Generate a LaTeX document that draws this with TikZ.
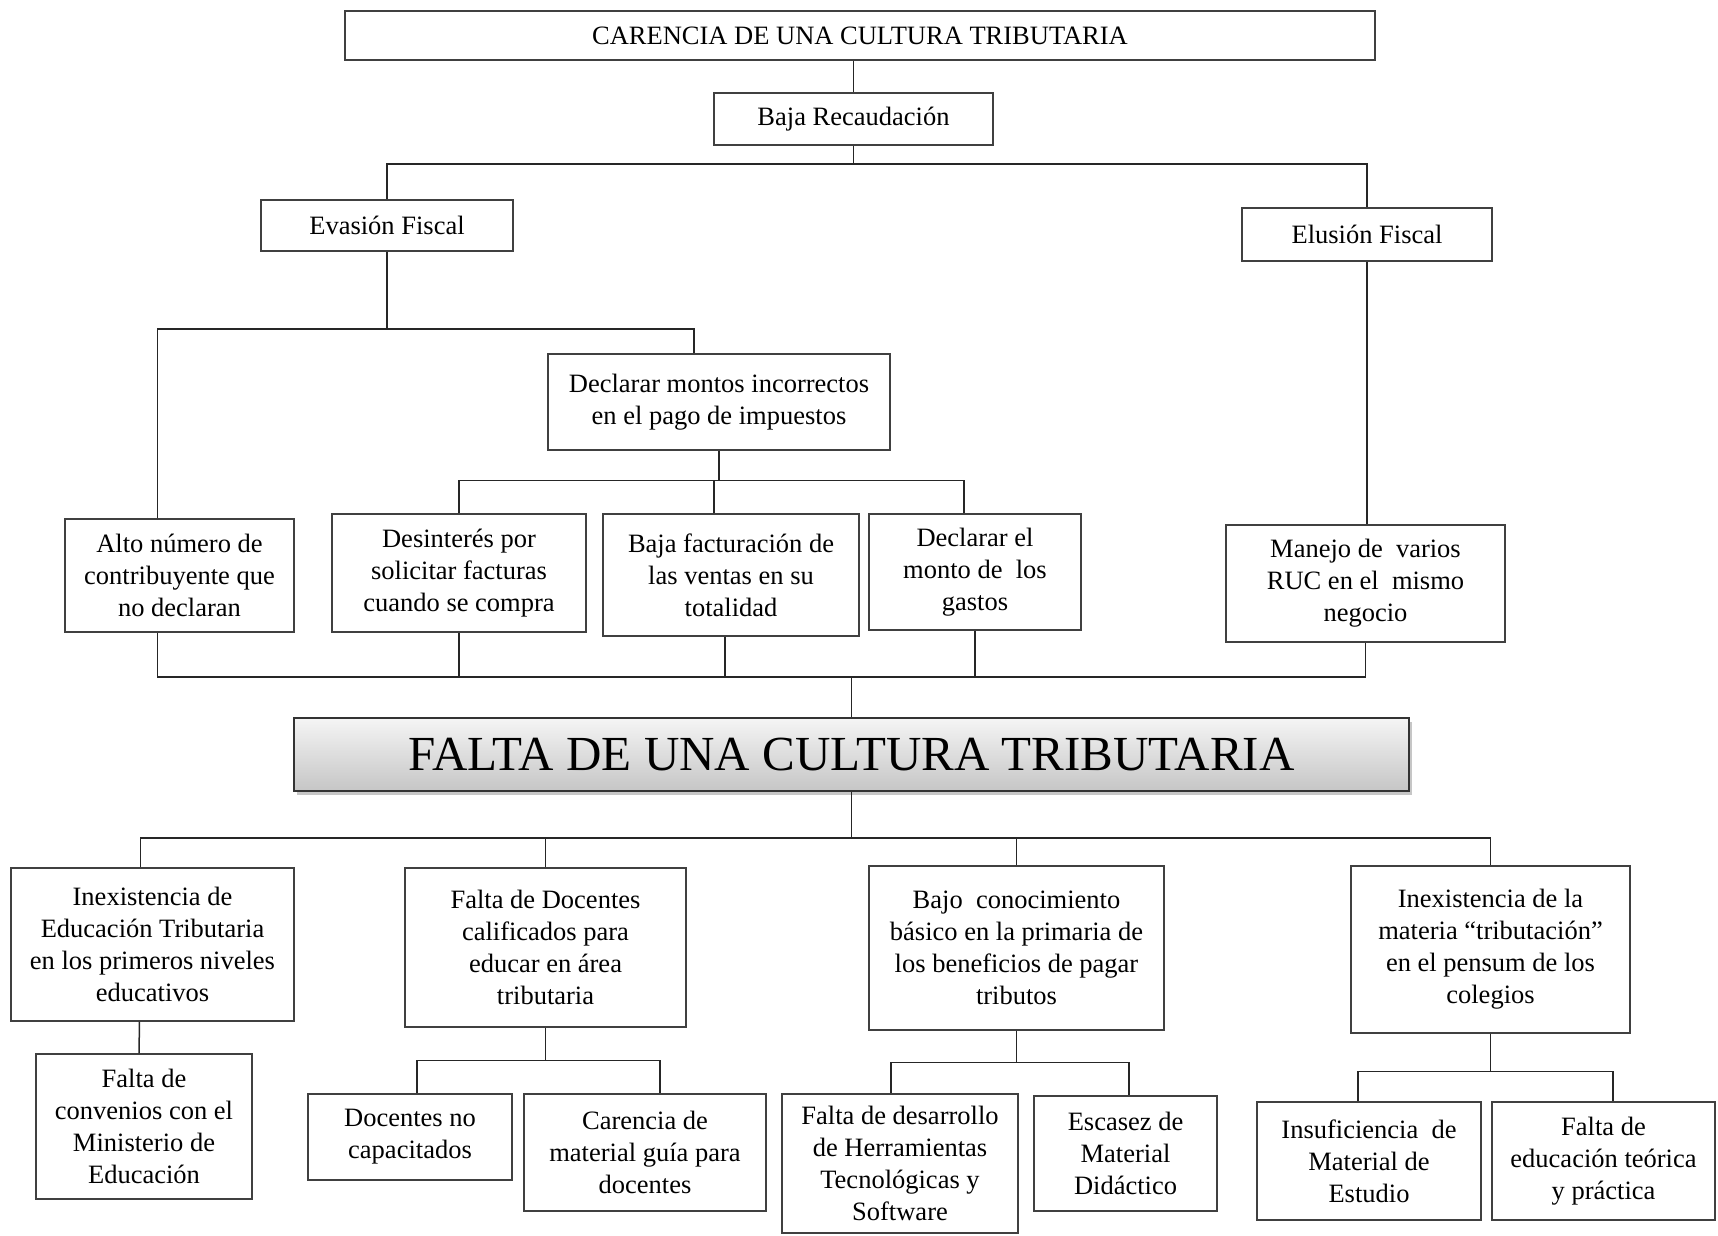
\documentclass[tikz,border=0pt]{standalone}
\usepackage{fontspec}
\setmainfont{Liberation Serif}
\usetikzlibrary{shadows}

\tikzset{
  box/.style={draw=black!75, line width=1.2pt, align=center, inner sep=0pt,
    font=\fontsize{26.5}{32}\selectfont},
  link/.style={draw=black!85, line width=1.5pt},
}

\begin{document}
\begin{tikzpicture}[x=1pt,y=-1pt]
        \useasboundingbox (0,0) rectangle (1718,1235);

        % upper part
        \node[box, minimum width=1030pt, minimum height=49pt] (carencia) at (860,35.5) {CARENCIA DE UNA CULTURA TRIBUTARIA};
        \node[box, minimum width=279pt, minimum height=52pt] (baja) at (853.5,119) {Baja Recaudación};
        \node[box, minimum width=252pt, minimum height=51pt] (eva) at (387,225.5) {Evasión Fiscal};
        \node[box, minimum width=250pt, minimum height=53pt] (elu) at (1367,234.5) {Elusión Fiscal};
        \node[box, minimum width=342pt, minimum height=96pt] (mon) at (719,402) {Declarar montos incorrectos\\en el pago de impuestos};
        \node[box, minimum width=229pt, minimum height=113pt] (alto) at (179.5,575.5) {Alto número de\\contribuyente que\\no declaran};
        \node[box, minimum width=254pt, minimum height=118pt] (des) at (459,573) {Desinterés por\\solicitar facturas\\cuando se compra};
        \node[box, minimum width=256pt, minimum height=122pt] (fac) at (731,575) {Baja facturación de\\las ventas en su\\totalidad};
        \node[box, minimum width=212pt, minimum height=116pt] (gas) at (975,572) {Declarar el\\monto de\ \ los\\gastos};
        \node[box, minimum width=279pt, minimum height=117pt] (man) at (1365.5,583.5) {Manejo de\ \ varios\\RUC en el\ \ mismo\\negocio};

        % central problem
        \node[box, draw=black!80, line width=1.6pt, minimum width=1115pt, minimum height=73pt,
              top color=gray!8, bottom color=gray!45,
              drop shadow={shadow xshift=3pt, shadow yshift=-4pt, opacity=.45},
              font=\fontsize{49}{56}\selectfont] (falta) at (851.5,754.5) {FALTA DE UNA CULTURA TRIBUTARIA};

        % lower part
        \node[box, minimum width=283pt, minimum height=153pt] (ied) at (152.5,944.5) {Inexistencia de\\Educación Tributaria\\en los primeros niveles\\educativos};
        \node[box, minimum width=281pt, minimum height=159pt] (doc) at (545.5,947.5) {Falta de Docentes\\calificados para\\educar en área\\tributaria};
        \node[box, minimum width=295pt, minimum height=164pt] (baj) at (1016.5,948) {Bajo\ \ conocimiento\\básico en la primaria de\\los beneficios de pagar\\tributos};
        \node[box, minimum width=279pt, minimum height=167pt] (mat) at (1490.5,949.5) {Inexistencia de la\\materia “tributación”\\en el pensum de los\\colegios};
        \node[box, minimum width=216pt, minimum height=145pt] (con) at (144,1126.5) {Falta de\\convenios con el\\Ministerio de\\Educación};
        \node[box, minimum width=204pt, minimum height=86pt] (dnc) at (410,1137) {Docentes no\\capacitados};
        \node[box, minimum width=242pt, minimum height=117pt] (car) at (645,1152.5) {Carencia de\\material guía para\\docentes};
        \node[box, minimum width=236pt, minimum height=139pt] (her) at (900,1163.5) {Falta de desarrollo\\de Herramientas\\Tecnológicas y\\Software};
        \node[box, minimum width=183pt, minimum height=115pt] (esc) at (1125.5,1153.5) {Escasez de\\Material\\Didáctico};
        \node[box, minimum width=224pt, minimum height=118pt] (ins) at (1369,1161) {Insuficiencia\ \ de\\Material de\\Estudio};
        \node[box, minimum width=223pt, minimum height=118pt] (edu) at (1603.5,1161) {Falta de\\educación teórica\\y práctica};

        % connectors above
        \coordinate (b1) at (853.5,164);
        \coordinate (b2) at (387,329);
        \coordinate (b4) at (851.5,677);
        \coordinate (b5) at (851.5,838);

        \draw[link] (carencia.south -| baja.north) -- (baja.north);
        \draw[link] (baja.south) -- (b1);
        \draw[link] (eva.north) |- (b1) -| (elu.north);
        \draw[link] (elu.south) -- (elu.south |- man.north);
        \draw[link] (eva.south) -- (b2);
        \draw[link] ([xshift=-22]alto.north) |- (b2) -| ([xshift=-25]mon.north);
        \draw[link] (mon.south) -- ++(0,30) coordinate (b3);
        \draw[link] (des.north) |- (b3) -| ([xshift=-11]gas.north);
        \draw[link] ([xshift=-17]fac.north) -- ([xshift=-17]fac.north |- b3);

        \draw[link] ([xshift=-22]alto.south) |- (b4) -| (man.south);
        \draw[link] (des.south) -- (des.south |- b4);
        \draw[link] ([xshift=-6]fac.south) -- ([xshift=-6]fac.south |- b4);
        \draw[link] (gas.south) -- (gas.south |- b4);
        \draw[link] (b4) -- (falta.north);

        % connectors below
        \draw[link] (falta.south) -- (b5);
        \draw[link] ([xshift=-12]ied.north) |- (b5) -| (mat.north);
        \draw[link] (doc.north) -- (doc.north |- b5);
        \draw[link] (baj.north) -- (baj.north |- b5);
        \draw[link] ([xshift=-13]ied.south) -- ([xshift=-5]con.north);

        \draw[link] (doc.south) -- ++(0,33) coordinate (b6);
        \draw[link] ([xshift=7]dnc.north) |- (b6) -| ([xshift=15]car.north);
        \draw[link] (baj.south) -- ++(0,32) coordinate (b7);
        \draw[link] ([xshift=-9]her.north) |- (b7) -| ([xshift=3.5]esc.north);
        \draw[link] (mat.south) -- ++(0,38) coordinate (b8);
        \draw[link] ([xshift=-11]ins.north) |- (b8) -| ([xshift=9.5]edu.north);
\end{tikzpicture}
\end{document}
